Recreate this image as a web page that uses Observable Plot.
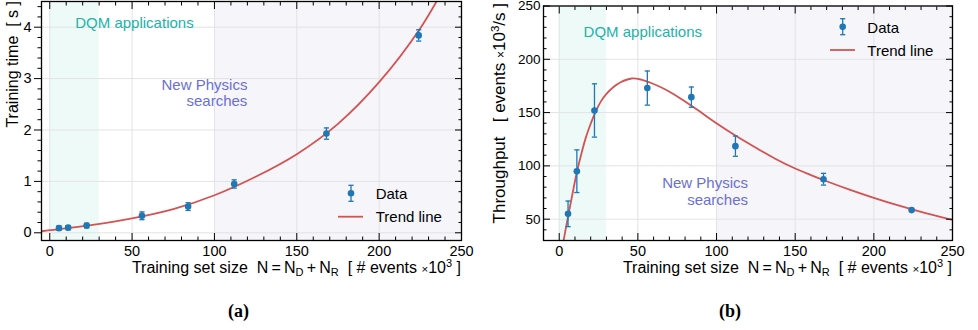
<!DOCTYPE html>
<html><head><meta charset="utf-8">
<script src="https://cdn.jsdelivr.net/npm/d3@7"></script>
<script src="https://cdn.jsdelivr.net/npm/@observablehq/plot@0.6"></script>
<style>
html,body{margin:0;padding:0;background:#fff;}
#wrap{display:flex;width:978px;height:330px;overflow:hidden;}
#wrap svg{display:block;}
</style></head><body><div id="wrap"></div>
<script>
// ---- data ----
const sizeN = [5.6, 11.2, 22.4, 56, 84, 112, 168, 224];           // # events x10^3
const trainTime = [0.09, 0.10, 0.14, 0.33, 0.51, 0.95, 1.93, 3.84];  // s
const trainTimeErr = [0.04, 0.04, 0.045, 0.075, 0.075, 0.08, 0.11, 0.11];
const throughput = [55, 95, 152, 173, 164.5, 118.5, 87.5, 58.5];      // events x10^3 / s
const throughputErr = [12, 20, 25, 16, 9.5, 9.5, 5.5, 1.2];
const trendTimeX = [-5, 0, 25, 50, 75, 100, 125, 150, 175, 200, 225, 240];
const trendTimeY = [0.03, 0.05, 0.15, 0.28, 0.46, 0.73, 1.09, 1.53, 2.12, 2.93, 3.98, 4.8];
const trendThrX = [2.5, 4, 6, 8, 11.2, 14, 17, 20, 23, 26.5, 30, 34.5, 39, 46, 52, 58, 65, 72.5, 80, 88, 96, 104, 113, 125, 137, 150, 160, 170, 185, 200, 215, 230, 250];
const trendThrY = [27.5, 40, 55.5, 70.5, 94, 111, 127, 139.5, 150.5, 160.5, 167.5, 174, 178.5, 182, 181, 178, 173.5, 167.5, 160.5, 152.5, 144, 136, 127.5, 117, 107, 97.5, 91.4, 85.6, 77.5, 70, 63.1, 56.8, 49.2];
const xTicks = [0, 50, 100, 150, 200, 250];
const timeTicks = [0, 1, 2, 3, 4];
const thrTicks = [50, 100, 150, 200, 250];
const regionDQM = [{x1: 0, x2: 30}];
const regionNP = [{x1: 100, x2: 250}];
const regionLabels = ["DQM applications", "New Physics\nsearches"];
const seriesLabels = ["Data", "Trend line"];
const captions = ["(a)", "(b)"];

// ---- styling ----
const FONT = "Liberation Sans, Arial, Helvetica, sans-serif";
const BLUE = "#1f77b4";
const RED = "#d45352";
const TEAL = "#22b2a6";
const SLATE = "#6b70cf";
const capSymbol = {draw(ctx) { ctx.moveTo(-2.6, 0); ctx.lineTo(2.6, 0); }};
const NB = "\u00a0", TH = "\u2009";

function minorTicks(lo, hi, step, majors) {
  return d3.range(lo, hi + step / 2, step).map(v => +v.toFixed(4)).filter(v => !majors.some(m => Math.abs(m - v) < 1e-6));
}

function panel(cfg) {
  const pts = cfg.xs.map((x, i) => ({x, y: cfg.ys[i], e: cfg.es[i]}));
  const trend = cfg.tx.map((x, i) => ({x, y: cfg.ty[i]}));
  const [y0, y1] = cfg.yDomain;
  const blank = () => "";
  const fmt = d => String(d);
  const svg = Plot.plot({
    width: 489, height: 330,
    marginLeft: cfg.ml, marginRight: cfg.mr, marginTop: cfg.mt, marginBottom: 90,
    x: {domain: cfg.xDomain},
    y: {domain: cfg.yDomain},
    style: {fontFamily: FONT, fontSize: "14.5px", color: "#000", background: "transparent", overflow: "visible"},
    marks: [
      Plot.rect(regionDQM, {x1: "x1", x2: "x2", y1: y0, y2: y1, fill: "#eefaf8"}),
      Plot.rect(regionNP, {x1: "x1", x2: "x2", y1: y0, y2: y1, fill: "#f5f5fa"}),
      Plot.gridX(xTicks, {stroke: "#e3e3e6", strokeOpacity: 1}),
      Plot.gridY(cfg.yMajor, {stroke: "#e3e3e6", strokeOpacity: 1}),
      Plot.text([regionLabels[0]], {x: 15.5, y: cfg.dqmY, text: d => d, textAnchor: "start", lineAnchor: "bottom", fill: TEAL, fontSize: 15}),
      Plot.text([regionLabels[1]], {x: 120, y: cfg.npY, text: d => d, textAnchor: "end", lineAnchor: "bottom", lineHeight: 1.12, fill: SLATE, fontSize: 15}),
      Plot.line(trend, {x: "x", y: "y", stroke: RED, strokeWidth: 1.8, curve: "catmull-rom", clip: true}),
      Plot.ruleX(pts, {x: "x", y1: d => d.y - d.e, y2: d => d.y + d.e, stroke: BLUE, strokeWidth: 1.3}),
      Plot.dot(pts, {x: "x", y: d => d.y - d.e, symbol: capSymbol, stroke: BLUE, strokeWidth: 1.3}),
      Plot.dot(pts, {x: "x", y: d => d.y + d.e, symbol: capSymbol, stroke: BLUE, strokeWidth: 1.3}),
      Plot.dot(pts, {x: "x", y: "y", r: 3.3, fill: BLUE}),
      Plot.axisX(cfg.xMinor, {anchor: "bottom", tickSize: -3.5, tickFormat: blank, label: null}),
      Plot.axisX(xTicks, {anchor: "bottom", tickSize: -7, tickPadding: 12, tickFormat: fmt, label: null}),
      Plot.axisX(cfg.xMinor, {anchor: "top", tickSize: -3.5, tickFormat: blank, label: null}),
      Plot.axisX(xTicks, {anchor: "top", tickSize: -7, tickFormat: blank, label: null}),
      Plot.axisY(cfg.yMinor, {anchor: "left", tickSize: cfg.leftOut ? 3.5 : -3.5, tickFormat: blank, label: null}),
      Plot.axisY(cfg.yMajor, {anchor: "left", tickSize: cfg.leftOut ? 7 : -7, tickPadding: cfg.yPad, tickFormat: fmt, fontSize: cfg.yTickFont, label: null}),
      Plot.axisY(cfg.yMinor, {anchor: "right", tickSize: -3.5, tickFormat: blank, label: null}),
      Plot.axisY(cfg.yMajor, {anchor: "right", tickSize: -7, tickFormat: blank, label: null}),
      Plot.frame({stroke: "#000", strokeWidth: 1.3})
    ]
  });
  const s = d3.select(svg);
  // x label
  const xr = 489 - cfg.mr;
  const t = s.append("text").attr("x", xr).attr("y", 273).attr("text-anchor", "end")
    .attr("font-family", FONT).attr("font-size", 16).attr("fill", "#000");
  t.append("tspan").text(`Training set size${NB}${NB}N${TH}=${TH}N`);
  t.append("tspan").attr("font-size", 11).attr("dy", 3).text("D");
  t.append("tspan").attr("dy", -3).text(`${TH}+${TH}N`);
  t.append("tspan").attr("font-size", 11).attr("dy", 3).text("R");
  t.append("tspan").attr("dy", -3).text(`${NB}${NB}[${NB}#${NB}events${NB}`);
  t.append("tspan").attr("font-size", 11.5).text("×");
  t.append("tspan").text("10");
  t.append("tspan").attr("font-size", 11).attr("dy", -6).text("3");
  t.append("tspan").attr("dy", 6).text(`${NB}]`);
  // y label (rotated, aligned to top)
  const yl = s.append("text").attr("transform", `translate(${cfg.ylX},${cfg.ylTop}) rotate(-90)`)
    .attr("text-anchor", "end").attr("font-family", FONT).attr("font-size", cfg.ylFont).attr("fill", "#000");
  cfg.ylab(yl);
  // legend
  const L = cfg.leg;
  const g = s.append("g").attr("text-anchor", "start");
  g.append("line").attr("x1", L.mx).attr("x2", L.mx).attr("y1", L.my - 8).attr("y2", L.my + 8).attr("stroke", BLUE).attr("stroke-width", 1.3);
  g.append("line").attr("x1", L.mx - 2.6).attr("x2", L.mx + 2.6).attr("y1", L.my - 8).attr("y2", L.my - 8).attr("stroke", BLUE).attr("stroke-width", 1.3);
  g.append("line").attr("x1", L.mx - 2.6).attr("x2", L.mx + 2.6).attr("y1", L.my + 8).attr("y2", L.my + 8).attr("stroke", BLUE).attr("stroke-width", 1.3);
  g.append("circle").attr("cx", L.mx).attr("cy", L.my).attr("r", 3.3).attr("fill", BLUE);
  g.append("line").attr("x1", L.lx1).attr("x2", L.lx2).attr("y1", L.ly).attr("y2", L.ly).attr("stroke", RED).attr("stroke-width", 1.8);
  g.append("text").attr("x", L.tx).attr("y", L.my + 6).attr("text-anchor", "start").attr("font-family", FONT).attr("font-size", 15).text(seriesLabels[0]);
  g.append("text").attr("x", L.tx).attr("y", L.ly + 5.6).attr("text-anchor", "start").attr("font-family", FONT).attr("font-size", 15).text(seriesLabels[1]);
  // caption
  s.append("text").attr("x", cfg.capX).attr("y", 317).attr("text-anchor", "middle")
    .attr("font-family", "Liberation Serif, Times New Roman, serif").attr("font-weight", "bold").attr("font-size", 18).text(cfg.caption);
  return svg;
}

const wrap = document.getElementById("wrap");
wrap.appendChild(panel({
  xs: sizeN, ys: trainTime, es: trainTimeErr, tx: trendTimeX, ty: trendTimeY,
  xDomain: [-5, 250], yDomain: [-0.15, 4.5],
  ml: 41, mr: 28, mt: 1, yTickFont: 14.5,
  xMinor: minorTicks(0, 250, 10, xTicks),
  yMajor: timeTicks, yMinor: minorTicks(0, 4.4, 0.2, timeTicks),
  leftOut: true, yPad: 3,
  dqmY: 3.975, npY: 2.46,
  ylX: 17.5, ylTop: 1, ylFont: 16,
  ylab: (yl) => { yl.append("tspan").text(`Training time${NB}${NB}[${NB}s${NB}]`); },
  leg: {mx: 351, my: 193.3, tx: 375.7, lx1: 338, lx2: 363, ly: 216.7},
  capX: 238.5, caption: captions[0]
}));
wrap.appendChild(panel({
  xs: sizeN, ys: throughput, es: throughputErr, tx: trendThrX, ty: trendThrY,
  xDomain: [-10, 250], yDomain: [30, 250],
  ml: 54, mr: 26, mt: 5.5, yTickFont: 13.5,
  xMinor: minorTicks(0, 250, 10, xTicks),
  yMajor: thrTicks, yMinor: minorTicks(40, 240, 10, thrTicks),
  leftOut: false, yPad: 10,
  dqmY: 221, npY: 63.5,
  ylX: 15.5, ylTop: 3, ylFont: 17,
  ylab: (yl) => {
    yl.append("tspan").text(`Throughput${NB}${NB}${NB}[${NB}events${NB}`);
    yl.append("tspan").attr("font-size", 12).text("×");
    yl.append("tspan").text("10");
    yl.append("tspan").attr("font-size", 11.5).attr("dy", -6).text("3");
    yl.append("tspan").attr("dy", 6).text(`/s${NB}]`);
  },
  leg: {mx: 353.7, my: 26.7, tx: 378.3, lx1: 341, lx2: 366, ly: 50},
  capX: 241, caption: captions[1]
}));
</script></body></html>
